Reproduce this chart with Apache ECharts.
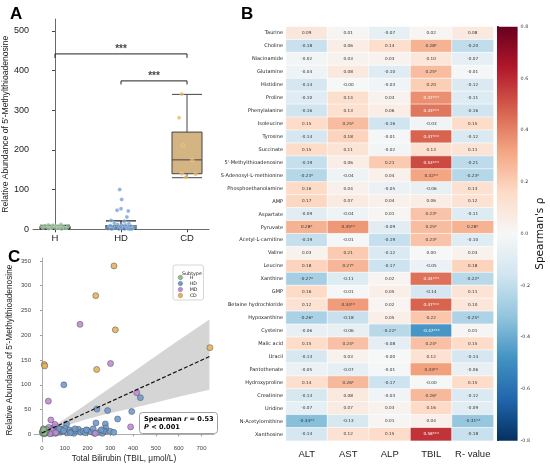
<!DOCTYPE html>
<html>
<head>
<meta charset="utf-8">
<script src="https://cdn.jsdelivr.net/npm/echarts@6/dist/echarts.min.js"></script>
<style>html,body{margin:0;padding:0;background:#fff}#main{width:550px;height:465px}</style>
</head>
<body>
<div id="main"></div>
<script>
// ---- panel A : 5'-MTA by group ----
var groupNames = ['H', 'HD', 'CD'];
var boxH  = [1, 3, 4.5, 6, 10];
var boxHD = [0, 2, 5, 9, 21];
var boxCD = [130, 140, 175, 245, 340];
// [x jitter, value]
var stripH = [[-0.18,4],[-0.12,6],[-0.06,3],[0,8],[0.06,5],[0.12,7],[0.18,4],[-0.15,9],[-0.09,2],[-0.03,10],
  [0.03,6],[0.09,12],[0.15,3],[-0.2,7],[0.2,9],[0.01,4],[-0.1,11],[0.1,1],[0.05,3],[-0.05,5]];
var stripHD = [[-0.02,100],[0.01,75],[0,52],[-0.06,48],[0.11,46],[0.09,31],[-0.15,22],[0.05,20],[-0.1,15],
  [0.12,14],[-0.05,12],[0.02,10],[0.15,8],[-0.18,7],[0.08,6],[-0.12,5],[0,4],[0.18,3],[-0.08,3],[0.1,2],
  [-0.2,2],[0.05,1],[-0.14,1],[0.13,0.5],[-0.03,0.5],[0.2,5],[-0.16,9],[0.07,11],[-0.01,7],[0.16,1]];
var stripCD = [[-0.08,341],[-0.12,281],[-0.06,211],[0.08,174],[-0.08,140],[0.13,139],[-0.02,131]];
var yTicksA = [0, 100, 200, 300, 400, 500];
var brackets = [{from: 0, to: 2, y: 442, low: 432, text: '***'}, {from: 1, to: 2, y: 374, low: 365, text: '***'}];

// ---- panel B : Spearman heatmap ----
var rowNames = ['Taurine','Choline','Niacinamide','Glutamine','Histidine','Proline','Phenylalanine','Isoleucine',
  'Tyrosine','Succinate',"5'-Methylthioadenosine",'S-Adenosyl-L-methionine','Phosphoethanolamine','AMP',
  'Aspartate','Pyruvate','Acetyl-L-carnitine','Valine','Leucine','Xanthine','GMP','Betaine hydrochloride',
  'Hypoxanthine','Cysteine','Malic acid','Uracil','Pantothenate','Hydroxyproline','Creatinine','Uridine',
  'N-Acetylornithine','Xanthosine'];
var colNames = ['ALT', 'AST', 'ALP', 'TBIL', 'R- value'];
var rhoALT = [0.09,-0.18,-0.02,-0.04,-0.14,-0.10,-0.16,0.15,-0.14,0.15,-0.19,-0.23,0.16,0.17,-0.09,0.28,
  -0.19,0.03,0.18,-0.27,0.16,0.12,-0.26,-0.06,0.15,-0.13,-0.05,0.14,-0.13,-0.07,-0.34,-0.14];
var rhoAST = [0.01,0.06,0.03,0.08,-0.003,0.14,0.13,0.25,0.18,0.11,0.06,-0.04,0.04,0.07,-0.04,0.35,
  -0.01,0.21,0.27,-0.11,-0.01,0.34,-0.18,-0.06,0.24,0.03,-0.07,0.26,0.08,0.07,-0.13,0.12];
var rhoALP = [-0.07,0.14,0.03,-0.10,-0.03,0.03,0.06,-0.16,-0.01,-0.02,0.21,0.04,-0.05,0.04,0.01,-0.09,
  -0.19,-0.12,-0.17,0.02,0.05,0.02,0.05,-0.22,-0.08,-0.003,-0.01,-0.17,-0.03,0.03,0.01,0.15];
var rhoTBIL = [0.02,0.28,0.10,0.25,0.20,0.37,0.43,-0.03,0.47,0.13,0.53,0.32,-0.06,0.06,0.23,0.25,
  0.23,0.00,-0.05,0.44,-0.14,0.47,0.22,-0.47,0.24,0.12,0.33,-0.003,0.26,0.16,0.04,0.58];
var rhoR = [0.08,-0.20,-0.07,-0.01,-0.12,-0.11,-0.16,0.15,-0.12,0.11,-0.21,-0.23,0.13,0.12,-0.11,0.28,
  -0.10,0.03,0.18,-0.22,0.11,0.10,-0.25,0.01,0.15,-0.14,-0.06,0.15,-0.12,-0.09,-0.31,-0.18];
var sigALT  = [0,0,0,0,0,0,0,0,0,0,0,1,0,0,0,1,0,0,0,1,0,0,1,0,0,0,0,0,0,0,2,0];
var sigAST  = [0,0,0,0,0,0,0,1,0,0,0,0,0,0,0,2,0,0,1,0,0,2,0,0,1,0,0,1,0,0,0,0];
var sigALP  = [0,0,0,0,0,0,0,0,0,0,0,0,0,0,0,0,0,0,0,0,0,0,0,1,0,0,0,0,0,0,0,0];
var sigTBIL = [0,1,0,1,0,3,3,0,3,0,3,2,0,0,1,1,1,0,0,3,0,3,0,3,1,0,2,0,1,0,0,3];
var sigR    = [0,0,0,0,0,0,0,0,0,0,0,1,0,0,0,1,0,0,0,1,0,0,1,0,0,0,0,0,0,0,2,0];
var cbarTicks = [-0.8, -0.6, -0.4, -0.2, 0, 0.2, 0.4, 0.6, 0.8];
var rdbu = ['#053061','#2166ac','#4393c3','#92c5de','#d1e5f0','#f7f7f7','#fddbc7','#f4a582','#d6604d','#b2182b','#67001f'];

// ---- panel C : MTA vs TBIL ----
var ptsH = [[2,5],[5,8],[8,3],[10,6],[12,10],[14,4],[3,2],[6,11],[15,7],[18,5],[20,9],[9,1],[4,6],[11,3],[7,9]];
var ptsHD = [[96,100],[432,74],[241,51],[288,48],[394,46],[332,31],[237,23],[108,21],[278,21],[280,13],[280,6],
  [30,3],[50,5],[60,2],[70,8],[80,4],[90,6],[110,3],[120,9],[130,5],[140,2],[150,7],[160,10],[170,4],[180,6],
  [190,3],[200,8],[215,5],[225,11],[250,4],[265,2],[270,7],[300,6],[315,4],[55,15],[40,12],[100,12],[85,10],
  [25,6],[35,8],[45,2],[65,4],[75,11],[95,7],[125,3],[145,11],[195,9],[230,2],[260,9]];
var ptsMD = [[167,222],[301,143],[28,67],[416,84],[39,29],[389,15],[234,2],[57,20],[30,14],[20,5],[45,8],[15,2],[60,3],[35,1]];
var ptsCD = [[316,340],[236,280],[322,211],[737,175],[10,141],[12,138],[240,131]];
var fitLine = [[0,3],[735,157]];
var bandX    = [0, 50, 100, 200, 300, 400, 500, 600, 735];
var bandLow  = [-2, 8, 17, 31, 43, 53, 64, 76, 90];
var bandHigh = [8, 17, 31, 62, 94, 126, 158, 190, 232];
var xTicksC = [0, 100, 200, 300, 400, 500, 600, 700];
var yTicksC = [0, 50, 100, 150, 200, 250, 300, 350];

var colH = '#8fbc8f', colHD = '#6b9bd1', colMD = '#c08ad8', colCD = '#e8b25a';
var ff = 'Liberation Sans';

var chart = echarts.init(document.getElementById('main'));

var heatData = [];
var rhoCols = [rhoALT, rhoAST, rhoALP, rhoTBIL, rhoR];
var sigCols = [sigALT, sigAST, sigALP, sigTBIL, sigR];
rhoCols.forEach(function (col, ci) {
  col.forEach(function (v, ri) {
    heatData.push({value: [ci, ri, v], label: {color: Math.abs(v) >= 0.36 ? '#fff' : '#333'}});
  });
});

var series = [];
// A boxes
series.push({
  type: 'boxplot', xAxisIndex: 1, yAxisIndex: 1, boxWidth: [30, 30],
  data: [
    {value: boxH, itemStyle: {color: colH, borderColor: '#222', borderWidth: 1.2}},
    {value: boxHD, itemStyle: {color: colHD, borderColor: '#222', borderWidth: 1.2}},
    {value: boxCD, itemStyle: {color: '#d4b483', borderColor: '#444', borderWidth: 1}}
  ]
});
[[stripH, colH], [stripHD, colHD], [stripCD, colCD]].forEach(function (s, gi) {
  series.push({
    type: 'scatter', name: 'A-' + groupNames[gi], xAxisIndex: 0, yAxisIndex: 0, symbolSize: 4,
    itemStyle: {color: s[1], opacity: 0.75, borderColor: '#fff', borderWidth: 0.3},
    data: s[0].map(function (p) { return [gi + p[0], p[1]]; })
  });
});
brackets.forEach(function (b) {
  series.push({
    type: 'line', xAxisIndex: 0, yAxisIndex: 0, symbol: 'none', silent: true,
    lineStyle: {color: '#222', width: 1},
    data: [[b.from, b.low], [b.from, b.y], [b.to, b.y], [b.to, b.low]]
  });
  series.push({
    type: 'scatter', xAxisIndex: 0, yAxisIndex: 0, symbolSize: 0,
    label: {show: true, position: 'top', distance: 0, formatter: b.text, fontSize: 10, fontWeight: 'bold', color: '#111'},
    data: [[(b.from + b.to) / 2, b.y]]
  });
});
// B heatmap
series.push({
  type: 'heatmap', xAxisIndex: 2, yAxisIndex: 2, data: heatData,
  itemStyle: {borderColor: '#fff', borderWidth: 0.6},
  label: {
    show: true, fontSize: 4.2, fontFamily: 'DejaVu Sans',
    formatter: function (p) {
      var s = sigCols[p.value[0]][p.value[1]];
      return p.value[2].toFixed(2) + '***'.slice(0, s);
    }
  }
});
var heatIndex = series.length - 1;
// colour bar
series.push({
  type: 'custom', xAxisIndex: 3, yAxisIndex: 3, silent: true, data: [[0, 0]],
  renderItem: function (params, api) {
    var a = api.coord([0, cbarTicks[cbarTicks.length - 1]]);
    var b = api.coord([1, cbarTicks[0]]);
    var stops = rdbu.slice().reverse().map(function (c, i) { return {offset: i / (rdbu.length - 1), color: c}; });
    return {type: 'rect', shape: {x: a[0], y: a[1], width: b[0] - a[0], height: b[1] - a[1]},
      style: {fill: new echarts.graphic.LinearGradient(0, 0, 0, 1, stops)}};
  }
});
// C confidence band as one polygon through the axes
series.push({
  type: 'custom', xAxisIndex: 4, yAxisIndex: 4, silent: true, clip: true,
  data: bandX.map(function (x, i) { return [x, bandLow[i], bandHigh[i]]; }),
  renderItem: function (params, api) {
    if (params.dataIndex !== 0) return;
    var upper = [], lower = [];
    bandX.forEach(function (x, i) {
      upper.push(api.coord([x, bandHigh[i]]));
      lower.unshift(api.coord([x, bandLow[i]]));
    });
    return {type: 'polygon', shape: {points: upper.concat(lower)}, style: {fill: '#d3d3d3', opacity: 0.95}};
  }
});
[['HD', ptsHD, colHD], ['MD', ptsMD, colMD], ['CD', ptsCD, colCD], ['H', ptsH, colH]].forEach(function (s) {
  series.push({
    type: 'scatter', name: s[0], xAxisIndex: 4, yAxisIndex: 4, symbolSize: 6,
    itemStyle: {color: s[2], opacity: 0.9, borderColor: '#555', borderWidth: 0.6},
    data: s[1]
  });
});
series.push({
  type: 'line', xAxisIndex: 4, yAxisIndex: 4, symbol: 'none', silent: true,
  lineStyle: {color: '#111', width: 1.2, type: [4, 2]}, data: fitLine
});

var tickLab = {fontFamily: ff, color: '#222'};

var option = {
  animation: false,
  textStyle: {fontFamily: ff},
  title: [
    {text: 'A', left: 5, top: 1, textStyle: {fontSize: 17, fontWeight: 'bold', color: '#000'}},
    {text: 'B', left: 236, top: 1, textStyle: {fontSize: 17, fontWeight: 'bold', color: '#000'}},
    {text: 'C', left: 3, top: 244, textStyle: {fontSize: 17, fontWeight: 'bold', color: '#000'}},
    {text: 'Subtype', left: 177, top: 266.5, z: 10, textStyle: {fontSize: 4.8, fontWeight: 'normal', color: '#222', fontFamily: 'DejaVu Sans'}},
    {
      text: '{b|Spearman }{bi|r}{b| = 0.53}\n{bi|P}{b| < 0.001}', left: 139, top: 412,
      borderColor: '#888', borderWidth: 0.8, borderRadius: 3, backgroundColor: '#fff', padding: [3, 4, 3, 5],
      textStyle: {rich: {
        b: {fontSize: 6.6, fontWeight: 'bold', color: '#000', fontFamily: 'DejaVu Sans', lineHeight: 8},
        bi: {fontSize: 6.6, fontWeight: 'bold', fontStyle: 'italic', color: '#000', fontFamily: 'DejaVu Sans', lineHeight: 8}
      }}
    }
  ],
  legend: {
    data: ['H', 'HD', 'MD', 'CD'], orient: 'vertical', left: 173, top: 265,
    itemWidth: 4.5, itemHeight: 4.5, itemGap: 1, icon: 'circle',
    itemStyle: {borderWidth: 0.3, opacity: 1},
    padding: [10, 6, 2, 5], borderColor: '#ccc', borderWidth: 0.8, borderRadius: 2, backgroundColor: '#fff',
    textStyle: {fontSize: 4.8, color: '#222', fontFamily: 'DejaVu Sans', padding: [0, 0, 0, 2]}
  },
  visualMap: {show: false, seriesIndex: heatIndex, dimension: 2, min: -0.8, max: 0.8, inRange: {color: rdbu}},
  grid: [
    {left: 33, top: 19, width: 176, height: 210.3},
    {left: 22, top: 19, width: 198, height: 210.3},
    {left: 286, top: 26.7, width: 207.5, height: 414},
    {left: 497, top: 26.7, width: 20.6, height: 414},
    {left: 34, top: 258, width: 180, height: 184}
  ],
  xAxis: [
    {gridIndex: 0, type: 'value', min: -0.333, max: 2.333, splitLine: {show: false},
      axisLine: {lineStyle: {color: '#444', width: 0.8}},
      axisTick: {customValues: [0, 1, 2], length: 3, lineStyle: {color: '#444'}},
      axisLabel: Object.assign({customValues: [0, 1, 2], fontSize: 9.5, margin: 4,
        formatter: function (v) { return groupNames[Math.round(v)]; }}, tickLab)},
    {gridIndex: 1, type: 'category', data: groupNames, show: false},
    {gridIndex: 2, type: 'category', data: colNames, position: 'bottom', axisLine: {show: false},
      axisTick: {length: 3, alignWithLabel: true, interval: 0, lineStyle: {color: '#555'}},
      axisLabel: Object.assign({fontSize: 9.5, margin: 9, interval: 0}, tickLab)},
    {gridIndex: 3, type: 'value', min: 0, max: 1, show: false},
    {gridIndex: 4, type: 'value', min: -35, max: 755, splitLine: {show: false},
      name: 'Total Bilirubin (TBIL, \u03bcmol/L)', nameLocation: 'middle', nameGap: 13,
      nameTextStyle: {fontSize: 8.3, color: '#222'},
      axisLine: {lineStyle: {color: '#999', width: 0.8}},
      axisTick: {customValues: xTicksC, length: 2, lineStyle: {color: '#999'}},
      axisLabel: Object.assign({customValues: xTicksC, fontSize: 6, margin: 3}, tickLab, {color: '#444'})}
  ],
  yAxis: [
    {gridIndex: 0, type: 'value', min: 0, max: 530, splitLine: {show: false},
      name: "Relative Abundance of 5'-Methylthioadenosine", nameLocation: 'middle', nameGap: 22,
      nameTextStyle: {fontSize: 8.6, color: '#222'},
      axisLine: {show: true, lineStyle: {color: '#444', width: 0.8}},
      axisTick: {show: true, customValues: yTicksA, length: 3, lineStyle: {color: '#444'}},
      axisLabel: Object.assign({customValues: yTicksA, fontSize: 9, margin: 4}, tickLab)},
    {gridIndex: 1, type: 'value', min: 0, max: 530, show: false},
    {gridIndex: 2, type: 'category', data: rowNames, inverse: true, axisLine: {show: false},
      axisTick: {length: 2, alignWithLabel: true, interval: 0, lineStyle: {color: '#555'}},
      axisLabel: {fontSize: 5, margin: 3, interval: 0, color: '#222', fontFamily: 'DejaVu Sans'}},
    {gridIndex: 3, type: 'value', min: -0.8, max: 0.8, position: 'right', splitLine: {show: false},
      name: "Spearman's \u03c1", nameLocation: 'middle', nameRotate: 90, nameGap: 17,
      nameTextStyle: {fontSize: 10.5, color: '#111', fontFamily: 'DejaVu Sans'},
      axisLine: {show: false},
      axisTick: {show: true, customValues: cbarTicks, length: 2, lineStyle: {color: '#555'}},
      axisLabel: {customValues: cbarTicks, fontSize: 4.8, margin: 3, color: '#333', fontFamily: 'DejaVu Sans',
        formatter: function (v) { return v.toFixed(1); }}},
    {gridIndex: 4, type: 'value', min: -15.5, max: 356, splitLine: {show: false},
      name: "Relative Abundance of 5'-Methylthioadenosine", nameLocation: 'middle', nameGap: 20,
      nameTextStyle: {fontSize: 8.3, color: '#222'},
      axisLine: {show: true, lineStyle: {color: '#999', width: 0.8}},
      axisTick: {show: true, customValues: yTicksC, length: 2, lineStyle: {color: '#999'}},
      axisLabel: Object.assign({customValues: yTicksC, fontSize: 6, margin: 3}, tickLab, {color: '#444'})}
  ],
  series: series
};
chart.setOption(option);
</script>
</body>
</html>
